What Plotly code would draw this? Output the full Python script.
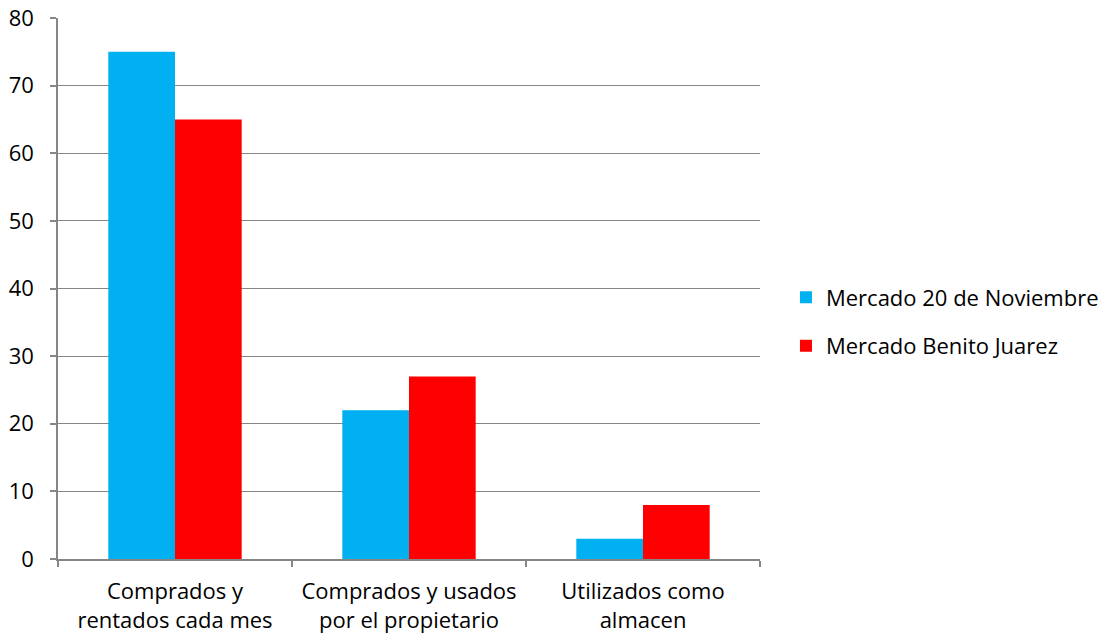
import plotly.graph_objects as go

categories = ["Comprados y<br>rentados cada mes", "Comprados y usados<br>por el propietario", "Utilizados como<br>almacen"]
series_names = ["Mercado 20 de Noviembre", "Mercado Benito Juarez"]
mercado_20_nov = [75, 22, 3]
mercado_benito = [65, 27, 8]
y_ticks = [0, 10, 20, 30, 40, 50, 60, 70, 80]

FONT = "Open Sans"
FS = 22
grey = "#868686"

fig = go.Figure()
fig.add_trace(go.Bar(x=categories, y=mercado_20_nov, name=series_names[0],
                     marker=dict(color="#00B0F0", line=dict(width=0)), legendgroup="a"))
fig.add_trace(go.Bar(x=categories, y=mercado_benito, name=series_names[1],
                     marker=dict(color="#FF0000", line=dict(width=0)), legendgroup="b"))

fig.update_layout(
    width=1115, height=640,
    margin=dict(l=58, r=355, t=18, b=81, autoexpand=False),
    paper_bgcolor="white", plot_bgcolor="white",
    barmode="group", bargap=0.43, bargroupgap=0,
    font=dict(family=FONT, size=FS, color="black"),
    legend=dict(x=1.037, y=0.497, xanchor="left", yanchor="middle", yref="container",
                font=dict(family=FONT, size=FS), tracegroupgap=17,
                itemwidth=30),
    showlegend=True,
)
fig.update_xaxes(
    type="category", showline=True, linecolor=grey, linewidth=1.5, automargin=False,
    ticks="outside", tickson="boundaries", ticklen=6, tickcolor=grey, tickwidth=1.5,
    showgrid=False, tickfont=dict(family=FONT, size=FS), ticklabelstandoff=12,
    ticklabeloverflow="allow",
)
fig.update_yaxes(
    range=[0, 80], tickvals=y_ticks, showline=True, linecolor=grey, linewidth=1.5, automargin=False,
    ticks="outside", ticklen=6, tickcolor=grey, tickwidth=1.5,
    showgrid=True, gridcolor=grey, gridwidth=1.2, zeroline=False,
    tickfont=dict(family=FONT, size=FS), ticklabelstandoff=12,
    ticklabeloverflow="allow",
)

fig.write_html("out.html", config={"displayModeBar": False},
               post_script="document.body.style.margin='0';document.body.style.overflow='hidden';")
